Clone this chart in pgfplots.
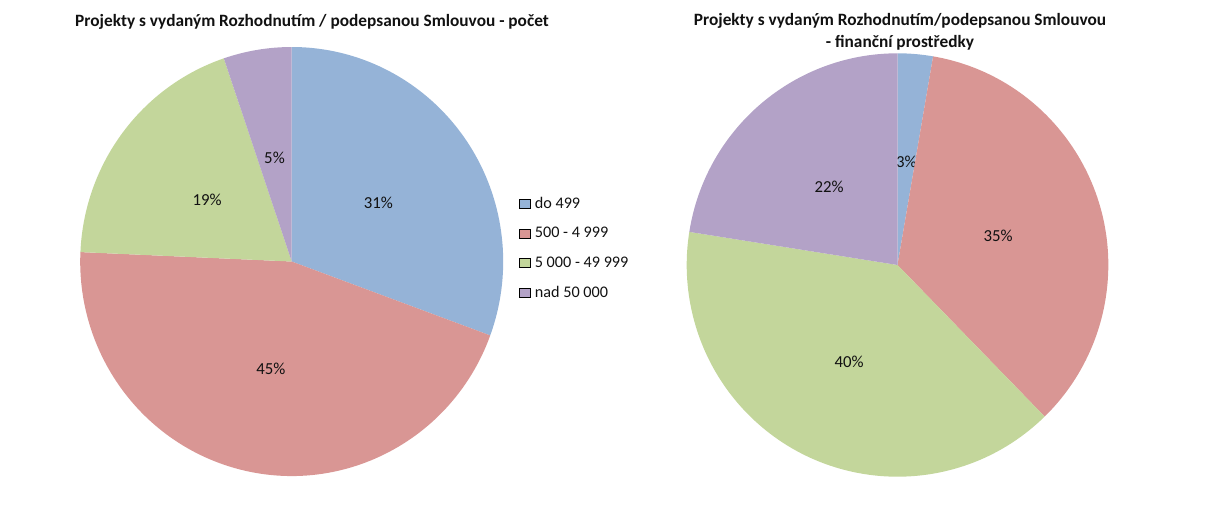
\documentclass[border=0pt]{standalone}
\usepackage{pgfplots}
\pgfplotsset{compat=1.18}
\usepackage{pgfplotstable}
\usepackage{fontspec}
\setmainfont{Carlito}

\definecolor{slice0}{HTML}{95B3D7}
\definecolor{slice1}{HTML}{D99694}
\definecolor{slice2}{HTML}{C3D69B}
\definecolor{slice3}{HTML}{B3A2C7}
\definecolor{txt}{HTML}{111111}

% podil v procentech, popisek
\pgfplotstableread{
share label
30.6 31
45.1 45
19.1 19
5.2 5
}\pocet

\pgfplotstableread{
share label
2.7 3
35.0 35
39.8 40
22.5 22
}\finance

\newcommand{\lblfont}{\fontsize{16.8bp}{20bp}\selectfont}
\newcommand{\legfont}{\fontsize{16.2bp}{19bp}\selectfont}
\newcommand{\titfont}{\bfseries\fontsize{17.3bp}{21.7bp}\selectfont}

% #1 table, #2 x radius, #3 y radius
\newcommand{\drawpie}[3]{%
  \pgfplotsextra{%
    \pgfplotstablegetrowsof{#1}%
    \pgfmathtruncatemacro\last{\pgfplotsretval-1}%
    \xdef\cum{0}%
    \foreach \i in {0,...,\last} {%
      \pgfplotstablegetelem{\i}{share}\of{#1}\let\v\pgfplotsretval
      \pgfplotstablegetelem{\i}{label}\of{#1}\let\lab\pgfplotsretval
      \pgfmathsetmacro\a{90-3.6*\cum}%
      \pgfmathsetmacro\b{90-3.6*(\cum+\v)}%
      \pgfmathsetmacro\m{(\a+\b)/2}%
      \fill[fill=slice\i] (axis cs:0,0) -- (axis cs:{cos(\a)},{sin(\a)})
        arc[start angle=\a, end angle=\b, x radius=#2, y radius=#3] -- cycle;
      \node[font=\lblfont, text=txt] at (axis cs:{0.5*cos(\m)},{0.5*sin(\m)-0.012}) {\lab\%};
      \pgfmathsetmacro\c{\cum+\v}%
      \xdef\cum{\c}%
    }%
  }%
}

\begin{document}
\begin{tikzpicture}
\path[use as bounding box] (0,0) rectangle (1206bp,-510bp);

\node[font=\titfont, text=txt] at (312bp,-22bp)
  {Projekty s vydaným Rozhodnutím / podepsanou Smlouvou - počet};
\node[font=\titfont, text=txt, align=center] at (900bp,-32bp)
  {Projekty s vydaným Rozhodnutím/podepsanou Smlouvou\\ - finanční prostředky};

\begin{axis}[
    at={(291.7bp,-261.5bp)}, anchor=center,
    width=423bp, height=429bp, scale only axis,
    xmin=-1, xmax=1, ymin=-1, ymax=1,
    hide axis,
    legend style={draw=none, fill=none, at={(1.038,0.531)}, anchor=west,
      font=\legfont, text=txt, row sep=13.6bp, inner sep=0pt},
    legend cell align=left,
    legend image code/.code={\fill[#1] (0bp,-4.5bp) rectangle (10.5bp,4.5bp);
      \path (13bp,0bp);},
]
\drawpie{\pocet}{211.5bp}{214.5bp}
\addlegendimage{fill=slice0}
\addlegendentry{do 499}
\addlegendimage{fill=slice1}
\addlegendentry{500 - 4 999}
\addlegendimage{fill=slice2}
\addlegendentry{5 000 - 49 999}
\addlegendimage{fill=slice3}
\addlegendentry{nad 50 000}
\end{axis}

\begin{axis}[
    at={(897.5bp,-265bp)}, anchor=center,
    width=421.6bp, height=423.4bp, scale only axis,
    xmin=-1, xmax=1, ymin=-1, ymax=1,
    hide axis,
]
\drawpie{\finance}{210.8bp}{211.7bp}
\end{axis}
\end{tikzpicture}
\end{document}
